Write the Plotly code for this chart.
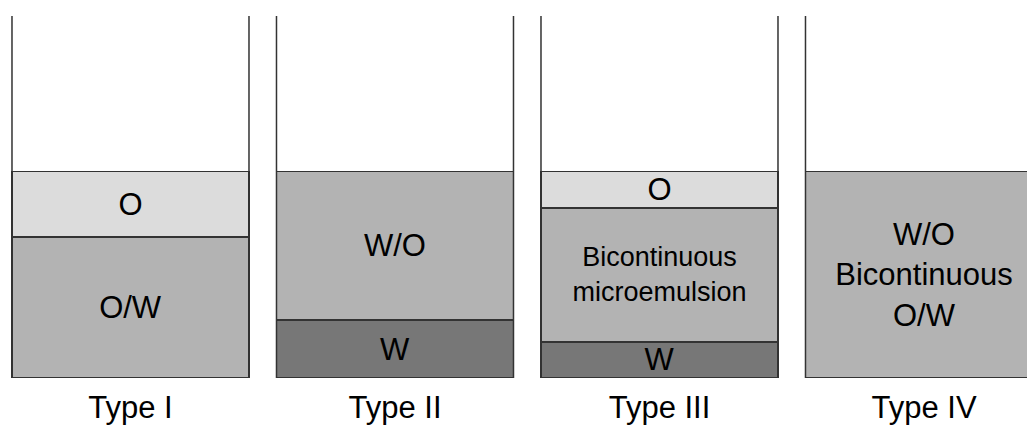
import plotly.graph_objects as go

## Dados: quatro tipos de Winsor, alturas das camadas (recipiente = 100)
tipos = ['Type I', 'Type II', 'Type III', 'Type IV']
pos = [0, 1, 2, 3]
altura_recipiente = 100

camada_w = [0, 16, 10, 0]
camada_meio = [39, 41, 37, 57]
camada_o = [18, 0, 10, 0]

texto_w = ['', 'W', 'W', '']
texto_meio = ['O/W', 'W/O', 'Bicontinuous<br>microemulsion', 'W/O<br>Bicontinuous<br>O/W']
texto_o = ['O', '', 'O', '']
tam_meio = [31, 31, 27, 31]

largura = 0.896
fonte = 'Liberation Sans, Arial, sans-serif'
borda = dict(color='#333333', width=1.5)

fig = go.Figure()
for vals, txt, cor, tam in [(camada_w, texto_w, '#777777', 31),
                            (camada_meio, texto_meio, '#b3b3b3', tam_meio),
                            (camada_o, texto_o, '#dcdcdc', 31)]:
    fig.add_trace(go.Bar(x=pos, y=vals, width=largura, text=txt,
                         marker=dict(color=cor, line=borda),
                         textposition='inside', insidetextanchor='middle',
                         constraintext='none',
                         textangle=0, insidetextfont=dict(color='black', size=tam, family=fonte),
                         hoverinfo='none', showlegend=False))

## Paredes dos recipientes
xs, ys = [], []
for p in pos:
    for lado in (-largura / 2, largura / 2):
        xs += [p + lado, p + lado, None]
        ys += [0, altura_recipiente, None]
fig.add_trace(go.Scatter(x=xs, y=ys, mode='lines', line=dict(color='#333333', width=1.5),
                         hoverinfo='none', showlegend=False))

## a pagina tem 8px de margem, por isso a figura e um pouco menor
fig.update_layout(barmode='stack', width=1027, height=424,
                  margin=dict(l=0, r=0, t=0, b=54),
                  paper_bgcolor='white', plot_bgcolor='white')
fig.update_xaxes(range=[-0.4631, 3.4197], tickvals=pos, ticktext=tipos,
                 tickfont=dict(size=31, color='black', family=fonte),
                 showgrid=False, zeroline=False, showline=False, ticks='',
                 ticklabelstandoff=8)
fig.update_yaxes(range=[0, 102.2], visible=False)
fig.write_html('out.html')
